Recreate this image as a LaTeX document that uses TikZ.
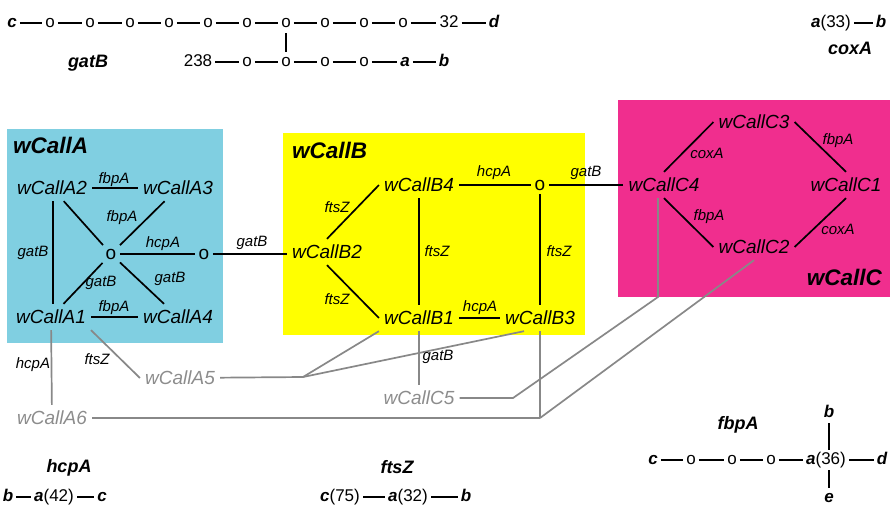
\documentclass[tikz,border=0pt]{standalone}
\usepackage{fontspec}
\setmainfont{Liberation Sans}
\usetikzlibrary{calc}
\definecolor{boxA}{RGB}{128,207,225}
\definecolor{boxB}{RGB}{255,255,0}
\definecolor{boxC}{RGB}{240,46,142}
\definecolor{gline}{RGB}{136,136,136}
\definecolor{gtext}{RGB}{140,140,140}
\begin{document}
\begin{tikzpicture}[x=1pt,y=-1pt,
  nm/.style={font=\fontsize{19}{22}\selectfont\itshape, inner xsep=5pt, inner ysep=6pt},
  gnm/.style={nm, text=gtext},
  hub/.style={font=\fontsize{19}{22}\selectfont, inner sep=3.5pt},
  lbl/.style={font=\fontsize{15}{18}\selectfont\itshape, inner sep=0pt},
  ttl/.style={font=\fontsize{22.5}{26}\selectfont\bfseries\itshape, inner sep=0pt},
  gene/.style={font=\fontsize{18}{21}\selectfont\bfseries\itshape, inner sep=0pt},
  ch/.style={font=\fontsize{17}{20}\selectfont, inner xsep=3pt, inner ysep=2pt, text height=12pt, text depth=4pt},
  chb/.style={ch, font=\fontsize{17}{20}\selectfont\bfseries\itshape},
  link/.style={line width=1.7pt, black},
  glink/.style={line width=1.7pt, gline},
  panel/.style={draw=none}
]
\useasboundingbox (0,0) rectangle (893,507);

% ---------- coloured panels ----------
\fill[boxA] (7,129) rectangle (223,343);
\fill[boxB] (283,133) rectangle (585,335);
\fill[boxC] (618,100) rectangle (890,297);

\node[ttl, anchor=west] (tA) at (13,145) {wCallA};
\node[ttl, anchor=west] (tB) at (292,150) {wCallB};
\node[ttl, anchor=east] (tC) at (882,277) {wCallC};

% ---------- top chain (gatB) ----------
\node[chb] (t0) at (12,23) {c};
\node[ch] (t1) at (50,23) {o};
\node[ch] (t2) at (90,23) {o};
\node[ch] (t3) at (130,23) {o};
\node[ch] (t4) at (169,23) {o};
\node[ch] (t5) at (208,23) {o};
\node[ch] (t6) at (247,23) {o};
\node[ch] (t7) at (286,23) {o};
\node[ch] (t8) at (325,23) {o};
\node[ch] (t9) at (364,23) {o};
\node[ch] (t10) at (403,23) {o};
\node[ch] (t11) at (449,23) {32};
\node[chb] (t12) at (494,23) {d};
\foreach \p/\q in {t0/t1,t1/t2,t2/t3,t3/t4,t4/t5,t5/t6,t6/t7,t7/t8,t8/t9,t9/t10,t10/t11,t11/t12}
  \draw[link] (\p) -- (\q);

\node[ch] (s0) at (198,62) {238};
\node[ch] (s1) at (247,62) {o};
\node[ch] (s2) at (286,62) {o};
\node[ch] (s3) at (325,62) {o};
\node[ch] (s4) at (364,62) {o};
\node[chb] (s5) at (405,62) {a};
\node[chb] (s6) at (444,62) {b};
\foreach \p/\q in {s0/s1,s1/s2,s2/s3,s3/s4,s4/s5,s5/s6}
  \draw[link] (\p) -- (\q);
\draw[link] (t7) -- (s2);
\node[gene] (gGat) at (88,63) {gatB};

% ---------- coxA ----------
\node[ch] (x0) at (831,23) {{\bfseries\itshape a}(33)};
\node[chb] (x1) at (881,23) {b};
\draw[link] (x0) -- (x1);
\node[gene] (gCox) at (850,48) {coxA};

% ---------- hcpA ----------
\node[gene] (gHcp) at (69,468) {hcpA};
\node[chb] (h0) at (8,497) {b};
\node[ch] (h1) at (54,497) {{\bfseries\itshape a}(42)};
\node[chb] (h2) at (102,497) {c};
\draw[link] (h0) -- (h1);
\draw[link] (h1) -- (h2);

% ---------- ftsZ ----------
\node[gene] (gFts) at (397,467) {ftsZ};
\node[ch] (f0) at (340,497) {{\bfseries\itshape c}(75)};
\node[ch] (f1) at (408,497) {{\bfseries\itshape a}(32)};
\node[chb] (f2) at (466,497) {b};
\draw[link] (f0) -- (f1);
\draw[link] (f1) -- (f2);

% ---------- fbpA ----------
\node[gene] (gFbp) at (738,425) {fbpA};
\node[chb] (p0) at (653,460) {c};
\node[ch] (p1) at (691,460) {o};
\node[ch] (p2) at (732,460) {o};
\node[ch] (p3) at (771,460) {o};
\node[ch] (p4) at (826,460) {{\bfseries\itshape a}(36)};
\node[chb] (p5) at (882,460) {d};
\node[chb] (p6) at (829,413) {b};
\node[chb] (p7) at (829,498) {e};
\foreach \p/\q in {p0/p1,p1/p2,p2/p3,p3/p4,p4/p5}
  \draw[link] (\p) -- (\q);
\draw[link] (p6) -- (p6 |- p4.north);
\draw[link] (p6 |- p4.south) -- (p7);

% ---------- wCallA ----------
\node[nm] (A2) at (52,188) {wCallA2};
\node[nm] (A3) at (178,188) {wCallA3};
\node[nm] (A1) at (51,317) {wCallA1};
\node[nm] (A4) at (178,317) {wCallA4};
\node[hub] (oA) at (111,254) {o};
\node[hub] (oA2) at (204,254) {o};

\draw[link] (A2) -- (A3);
\draw[link] (A1) -- (A4);
\draw[link] (A2.south -| 53,0) -- (A1.north -| 53,0);
\draw[link] (A2) -- (oA);
\draw[link] (A3) -- (oA);
\draw[link] (A1) -- (oA);
\draw[link] (A4) -- (oA);
\draw[link] (oA) -- (oA2);

\node[lbl] (lA1) at (114,180) {fbpA};
\node[lbl] (lA2) at (122,218) {fbpA};
\node[lbl] (lA3) at (163,244) {hcpA};
\node[lbl] (lA4) at (33,253) {gatB};
\node[lbl] (lA5) at (101,283) {gatB};
\node[lbl] (lA6) at (170,279) {gatB};
\node[lbl] (lA7) at (114,308) {fbpA};
\node[lbl] (lA8) at (252,243) {gatB};

% ---------- wCallB ----------
\node[nm] (B4) at (419,185) {wCallB4};
\node[hub] (oB) at (540,185) {o};
\node[nm] (B2) at (327,252) {wCallB2};
\node[nm] (B1) at (419,318) {wCallB1};
\node[nm] (B3) at (540,318) {wCallB3};

\draw[link] (oA2) -- (oA2 -| B2.west);
\draw[link] (B4) -- (oB);
\draw[link] (B2.north) -- (B4.west);
\draw[link] (B2.south) -- (B1.west);
\draw[link] (B4) -- (B1);
\draw[link] (oB) -- (B3);
\draw[link] (B1) -- (B3);

\node[lbl] (lB1) at (494,173) {hcpA};
\node[lbl] (lB2) at (586,173) {gatB};
\node[lbl] (lB3) at (337,207) {ftsZ};
\node[lbl] (lB4) at (337,299) {ftsZ};
\node[lbl] (lB5) at (437,251) {ftsZ};
\node[lbl] (lB6) at (559,251) {ftsZ};
\node[lbl] (lB7) at (480,308) {hcpA};

% ---------- wCallC ----------
\node[nm] (C3) at (754,122) {wCallC3};
\node[nm] (C4) at (664,185) {wCallC4};
\node[nm] (C1) at (846,185) {wCallC1};
\node[nm] (C2) at (754,247) {wCallC2};

\draw[link] (oB) -- (C4);
\draw[link] (C4.north) -- (C3.west);
\draw[link] (C3.east) -- (C1.north);
\draw[link] (C4.south) -- (C2.west);
\draw[link] (C2.east) -- (C1.south);

\node[lbl] (lC1) at (707,153) {coxA};
\node[lbl] (lC2) at (838,141) {fbpA};
\node[lbl] (lC3) at (709,217) {fbpA};
\node[lbl] (lC4) at (838,229) {coxA};

% ---------- grey outliers ----------
\node[gnm] (A5) at (180,378) {wCallA5};
\node[gnm] (A6) at (52,418) {wCallA6};
\node[gnm] (C5) at (419,398) {wCallC5};

\coordinate (J1) at (303,377);
\coordinate (J2) at (513,398);
\coordinate (J3) at (658,297);
\coordinate (J4) at (540,418);

\draw[glink] (A1) -- (A6);
\draw[glink] (A1.south east) -- (A5.west);
\draw[glink] (A5) -- (J1);
\draw[glink] (B1.south west) -- (J1);
\draw[glink] ($(B3.south)+(-16,0)$) -- (J1);
\draw[glink] (B1) -- (C5);
\draw[glink] (C5) -- (J2) -- (J3) -- (J3 |- C4.south);
\draw[glink] (C2.south) -- (J4);
\draw[glink] (B3) -- (J4);
\draw[glink] (J4) -- (J4 -| A6.east);

\node[lbl] (lG1) at (33,365) {hcpA};
\node[lbl] (lG2) at (97,359) {ftsZ};
\node[lbl] (lG3) at (438,357) {gatB};
\end{tikzpicture}
\end{document}
